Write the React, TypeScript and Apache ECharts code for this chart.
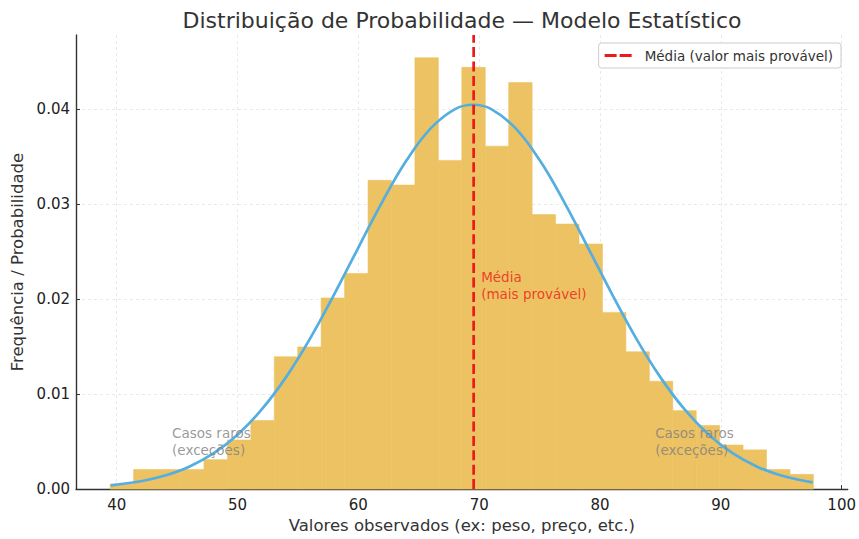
import React, { useEffect, useRef } from "react";
import * as echarts from "echarts";

// Histogram bin edges (x) and densities
const binEdges = [
  39.46, 41.4, 43.34, 45.28, 47.22, 49.16, 51.1, 53.04, 54.98, 56.92, 58.86,
  60.8, 62.74, 64.68, 66.62, 68.56, 70.5, 72.44, 74.38, 76.32, 78.26, 80.2,
  82.14, 84.08, 86.02, 87.96, 89.9, 91.84, 93.78, 95.72, 97.66,
];
const binDensity = [
  0.00052, 0.00206, 0.00206, 0.00206, 0.0031, 0.00516, 0.00722, 0.01393,
  0.01496, 0.02012, 0.0227, 0.0325, 0.032, 0.0454, 0.0346, 0.0444, 0.0361,
  0.0428, 0.0289, 0.0279, 0.0258, 0.0186, 0.01445, 0.01135, 0.00826, 0.0067,
  0.00464, 0.00413, 0.00206, 0.00155,
];

// Fitted curve points
const curveX = [
  39.5, 42, 44, 46, 48, 50, 52, 54, 56, 58, 60, 62, 64, 66, 68, 69.5, 71, 73,
  75, 77, 79, 81, 83, 85, 87, 89, 91, 93, 95, 97.6,
];
const curveY = [
  0.0004, 0.00083, 0.00143, 0.00236, 0.00375, 0.00572, 0.00838, 0.01176,
  0.01584, 0.0205, 0.02543, 0.03029, 0.03463, 0.03799, 0.04, 0.04046, 0.04,
  0.03799, 0.03463, 0.03029, 0.02543, 0.0205, 0.01584, 0.01176, 0.00838,
  0.00572, 0.00375, 0.00236, 0.00143, 0.0007,
];

const meanValue = 69.54;
const xTicks = [40, 50, 60, 70, 80, 90, 100];
const yTicks = [0, 0.01, 0.02, 0.03, 0.04];

const titleText = "Distribuição de Probabilidade — Modelo Estatístico";
const xName = "Valores observados (ex: peso, preço, etc.)";
const yName = "Frequência / Probabilidade";
const meanLegend = "Média (valor mais provável)";
const meanNote = "Média\n(mais provável)";
const rareNote = "Casos raros\n(exceções)";

const FONT = "DejaVu Sans";
const BAR = "#EDC262";
const RED = "#EC1A1A";

export default function App() {
  const ref = useRef<HTMLDivElement>(null);
  useEffect(() => {
    if (!ref.current) return;
    const chart = echarts.init(ref.current, null, { renderer: "svg" });
    const Y_MAX = 0.0478;
    const histData = binDensity.map((h, i) => [binEdges[i], binEdges[i + 1], h]);
    const curveData = curveX.map((x, i) => [x, curveY[i]]);
    const gridLine = { show: true, lineStyle: { color: "#e3e3e3", type: [3, 3] as any, width: 0.8 } };
    const noteLabel = (text: string, color: string) => ({
      show: true,
      formatter: text,
      position: [0, 0],
      align: "left",
      verticalAlign: "top",
      color,
      fontFamily: FONT,
      fontSize: 13.5,
      lineHeight: 17,
    });
    chart.setOption({
      animation: false,
      backgroundColor: "#ffffff",
      textStyle: { fontFamily: FONT },
      grid: { left: 76, right: 11, top: 35, bottom: 44, containLabel: false },
      graphic: [
        {
          type: "text",
          x: 462,
          y: 20,
          style: {
            text: titleText,
            font: `22px "${FONT}"`,
            fill: "#333333",
            textAlign: "center",
            textVerticalAlign: "middle",
          },
        },
      ],
      legend: {
        data: [{ name: meanLegend, icon: "path://M0,0H12V3H0ZM15,0H27V3H15Z", itemStyle: { color: RED } }],
        right: 18,
        top: 43,
        padding: [5, 8, 5, 6],
        itemWidth: 27,
        itemHeight: 3,
        borderColor: "#cccccc",
        borderWidth: 1,
        borderRadius: 3,
        backgroundColor: "#ffffff",
        textStyle: { fontFamily: FONT, fontSize: 13.5, color: "#333333", padding: [0, 0, 0, 8], lineHeight: 15 },
      },
      xAxis: {
        type: "value",
        min: 36.63,
        max: 100.5,
        name: xName,
        nameLocation: "middle",
        nameGap: 26,
        nameTextStyle: { fontFamily: FONT, fontSize: 16.5, color: "#333333" },
        axisLine: { show: true, lineStyle: { color: "#333333", width: 1.4 } },
        axisTick: { show: true, inside: true, length: 4, customValues: xTicks, lineStyle: { color: "#333333" } },
        axisLabel: { customValues: xTicks, margin: 8, fontFamily: FONT, fontSize: 15, color: "#222222" },
        splitLine: gridLine,
      },
      yAxis: {
        type: "value",
        min: 0,
        max: Y_MAX,
        name: yName,
        nameLocation: "middle",
        nameGap: 50,
        nameTextStyle: { fontFamily: FONT, fontSize: 16.5, color: "#333333" },
        axisLine: { show: true, lineStyle: { color: "#333333", width: 1.4 } },
        axisTick: { show: true, inside: true, length: 4, customValues: yTicks, lineStyle: { color: "#333333" } },
        axisLabel: {
          customValues: yTicks,
          margin: 6,
          fontFamily: FONT,
          fontSize: 15,
          color: "#222222",
          formatter: (v: number) => v.toFixed(2),
        },
        splitLine: gridLine,
      },
      series: [
        {
          type: "custom",
          name: "hist",
          data: histData,
          encode: { x: [0, 1], y: 2 },
          z: 2,
          renderItem: (params: any, api: any) => {
            const p0 = api.coord([api.value(0), api.value(2)]);
            const p1 = api.coord([api.value(1), 0]);
            return {
              type: "rect",
              shape: { x: p0[0], y: p0[1], width: p1[0] - p0[0], height: p1[1] - p0[1] },
              style: { fill: BAR, stroke: BAR, lineWidth: 0.6 },
            };
          },
        },
        {
          type: "line",
          name: "curve",
          data: curveData,
          smooth: 0.4,
          symbol: "none",
          z: 3,
          lineStyle: { color: "#55AEE0", width: 2.7 },
        },
        {
          type: "line",
          name: meanLegend,
          data: [
            [meanValue, 0],
            [meanValue, Y_MAX],
          ],
          symbol: "none",
          z: 4,
          color: RED,
          lineStyle: { color: RED, width: 2.7, type: [10, 4.4] as any },
        },
        {
          type: "scatter",
          name: "notes",
          symbolSize: 0,
          z: 5,
          silent: true,
          data: [
            { value: [70.16, 0.0232], label: noteLabel(meanNote, RED) },
            { value: [44.58, 0.0068], label: noteLabel(rareNote, "#808080") },
            { value: [84.56, 0.0068], label: noteLabel(rareNote, "#808080") },
          ],
        },
      ],
    });
    return () => chart.dispose();
  }, []);
  return <div ref={ref} style={{ width: 859, height: 539, position: "absolute", left: 0, top: 0 }} />;
}
